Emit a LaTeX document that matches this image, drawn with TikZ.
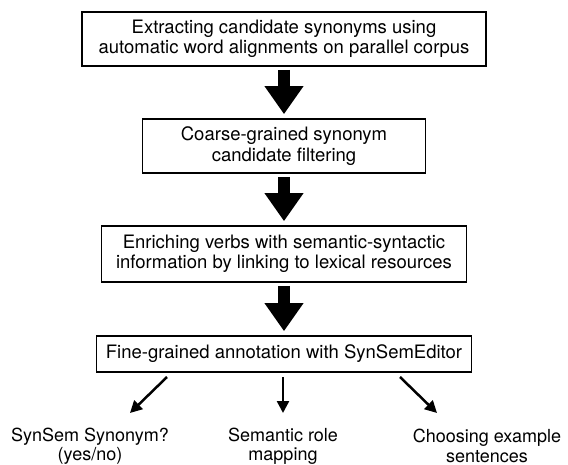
\documentclass[tikz,border=0pt]{standalone}
\usepackage{fontspec}
\setmainfont{TeX Gyre Heros}
\usetikzlibrary{arrows.meta}
\def\boxfont{\fontsize{18.5}{20.5}\selectfont}
\def\outfont{\fontsize{18}{19.5}\selectfont}
\def\midx{284}
\def\armtop{377}
\def\armbot{413}
\def\outy{446}

\tikzset{
  stepbox/.style={draw, line width=1.6pt, align=center, inner sep=0pt, font=\boxfont},
  outtext/.style={align=center, inner sep=0pt, font=\outfont},
  bigarrow/.style={line width=12pt, -{Triangle[width=37pt,length=28pt]}, shorten <=3pt, shorten >=4pt},
  smallarrow/.style={line width=2.5pt, -{Triangle[width=12pt,length=12pt]}},
}

\begin{document}
\begin{tikzpicture}[x=1pt,y=-1pt]
\useasboundingbox (0,0) rectangle (568,465);

% Pipeline steps
\node[stepbox, minimum width=404, minimum height=54] (b1) at (\midx,39) {Extracting candidate synonyms using\\automatic word alignments on parallel corpus};
\node[stepbox, minimum width=283, minimum height=54] (b2) at (\midx,146) {Coarse-grained synonym\\candidate filtering};
\node[stepbox, minimum width=365, minimum height=56] (b3) at (\midx,254) {Enriching verbs with semantic-syntactic\\information by linking to lexical resources};
\node[stepbox, minimum width=375, minimum height=36] (b4) at (\midx,354) {Fine-grained annotation with SynSemEditor};

% Thick arrows between steps
\foreach \from/\to in {b1/b2,b2/b3,b3/b4} {
    \draw[bigarrow] (\from) -- (\to);
}

% Annotation outputs
\node[outtext] (o1) at (90,\outy) {SynSem Synonym?\\(yes/no)};
\node[outtext] (o2) at (283,\outy) {Semantic role\\mapping};
\node[outtext] (o3) at (487,\outy) {Choosing example\\sentences};

\foreach \n/\sx/\ex in {1/167/130,2/283/283,3/400/437} {
    \coordinate (s\n) at (\sx,\armtop);
    \coordinate (e\n) at (\ex,\armbot);
    \draw[smallarrow] (s\n) -- (e\n); % arrow to output \n
}

\end{tikzpicture}
\end{document}
